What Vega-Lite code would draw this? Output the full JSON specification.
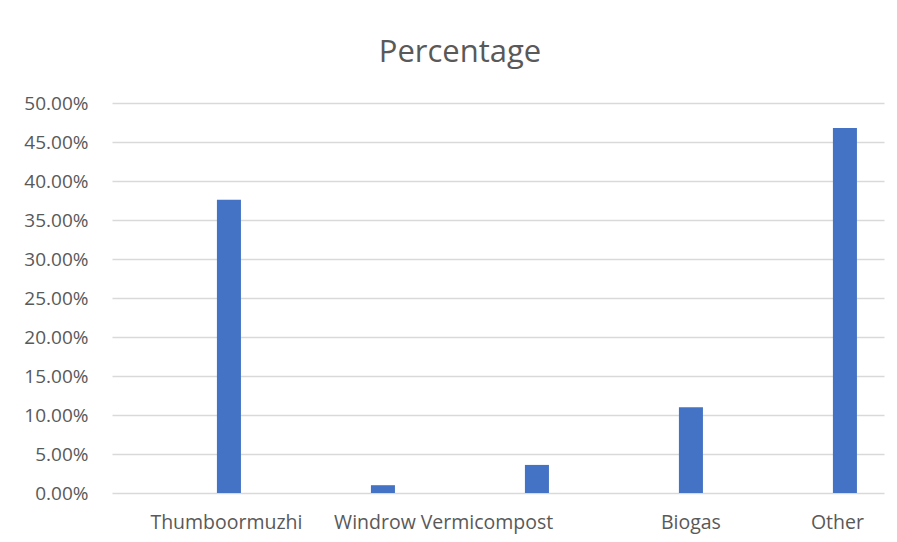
{
  "$schema": "https://vega.github.io/schema/vega-lite/v6.json",
  "width": 772,
  "height": 390,
  "autosize": {"type": "none"},
  "padding": {"left": 112, "top": 103, "right": 13, "bottom": 49},
  "background": "white",
  "title": {
    "text": "Percentage",
    "font": "Open Sans",
    "fontSize": 31,
    "fontWeight": "normal",
    "color": "#595959",
    "anchor": "middle",
    "dx": -38,
    "offset": 25
  },
  "data": {
    "values": [
      {"category": "Thumboormuzhi", "pct": 0.376},
      {"category": "Windrow", "pct": 0.010},
      {"category": "Vermicompost", "pct": 0.036},
      {"category": "Biogas", "pct": 0.110},
      {"category": "Other", "pct": 0.468}
    ]
  },
  "mark": {"type": "bar", "color": "#4472C4"},
  "encoding": {
    "x": {
      "field": "category",
      "type": "nominal",
      "sort": null,
      "scale": {"paddingInner": 0.844, "paddingOuter": 0.4285, "align": 0.795},
      "axis": {
        "title": null,
        "labelAngle": 0,
        "labelFont": "Open Sans",
        "labelFontSize": 19.5,
        "labelColor": "#595959",
        "labelPadding": 20,
        "labelOffset": {
          "condition": [
            {"test": "datum.value === 'Vermicompost'", "value": -50},
            {"test": "datum.value === 'Windrow'", "value": -8},
            {"test": "datum.value === 'Other'", "value": -7.5},
            {"test": "datum.value === 'Thumboormuzhi'", "value": -2.5}
          ],
          "value": 0
        },
        "ticks": false,
        "domain": false,
        "grid": false
      }
    },
    "y": {
      "field": "pct",
      "type": "quantitative",
      "scale": {"domain": [0, 0.5], "nice": false},
      "axis": {
        "title": null,
        "format": ".2%",
        "values": [0, 0.05, 0.1, 0.15, 0.2, 0.25, 0.3, 0.35, 0.4, 0.45, 0.5],
        "labelFont": "Open Sans",
        "labelFontSize": 19,
        "labelColor": "#595959",
        "labelPadding": 24,
        "ticks": false,
        "domain": false,
        "grid": true,
        "gridColor": "#d9d9d9",
        "gridWidth": 1.5
      }
    }
  },
  "config": {"view": {"stroke": null}}
}
